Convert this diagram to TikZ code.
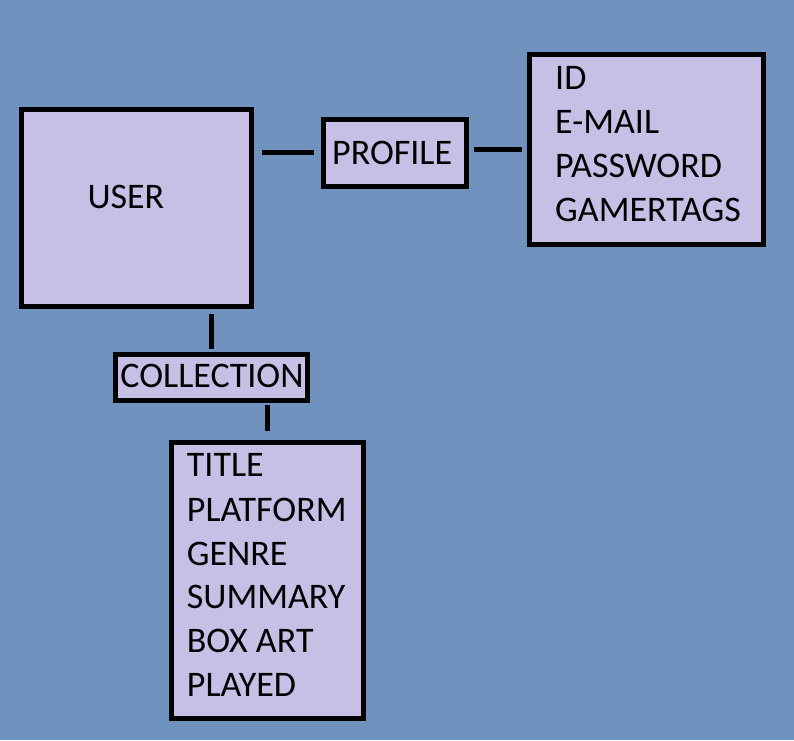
\documentclass[tikz,border=0pt]{standalone}
\usepackage{fontspec}
\setmainfont{Carlito}
\definecolor{bgblue}{RGB}{111,146,191}
\definecolor{boxfill}{RGB}{200,191,230}
\begin{document}
\begin{tikzpicture}[x=1pt,y=-1pt,
  box/.style={draw=black,fill=boxfill,line width=5pt,inner sep=0pt,rectangle},
  txt/.style={inner sep=0pt,anchor=base west,font=\fontsize{36}{40}\selectfont},
  conn/.style={draw=black,line width=5pt}]
\fill[bgblue] (0,0) rectangle (794,740);
\useasboundingbox (0,0) rectangle (794,740);
% boxes
\node[box,minimum width=230pt,minimum height=197pt] (user) at (136.5,208) {};
\node[box,minimum width=143.3pt,minimum height=67.3pt] (prof) at (394.85,152.85) {};
\node[box,minimum width=233.7pt,minimum height=190pt] (attr) at (646.35,149.8) {};
\node[box,minimum width=192.3pt,minimum height=46pt] (coll) at (211.35,377.2) {};
\node[box,minimum width=192pt,minimum height=275.7pt] (list) at (267.5,580.35) {};
% labels
\node[txt] (tuser) at (87.3,208.3) {USER};
\node[txt] (tprof) at (332,164) {PROFILE};
\node[txt] (tcoll) at (120.2,387) {COLLECTION};
\node[txt] (a1) at (555,89.3) {ID};
\node[txt] (a2) at (555,133.3) {E-MAIL};
\node[txt] (a3) at (555,177.7) {PASSWORD};
\node[txt] (a4) at (555,221.7) {GAMERTAGS};
\node[txt] (l1) at (186.7,476.7) {TITLE};
\node[txt] (l2) at (186.7,521) {PLATFORM};
\node[txt] (l3) at (186.7,565) {GENRE};
\node[txt] (l4) at (186.7,608.3) {SUMMARY};
\node[txt] (l5) at (186.7,652.7) {BOX ART};
\node[txt] (l6) at (186.7,696.7) {PLAYED};
% connectors
\draw[conn,shorten <=8pt,shorten >=6.7pt] (user.east |- prof.west) -- (prof.west);
\draw[conn,shorten <=5pt,shorten >=5.3pt] (prof.east |- attr.west) -- (attr.west);
\draw[conn,shorten <=5pt,shorten >=2.5pt] (coll.north |- user.south) -- (coll.north);
\draw[conn,shorten <=2.6pt,shorten >=9.3pt] (list.north |- coll.south) -- (list.north);
\end{tikzpicture}
\end{document}
